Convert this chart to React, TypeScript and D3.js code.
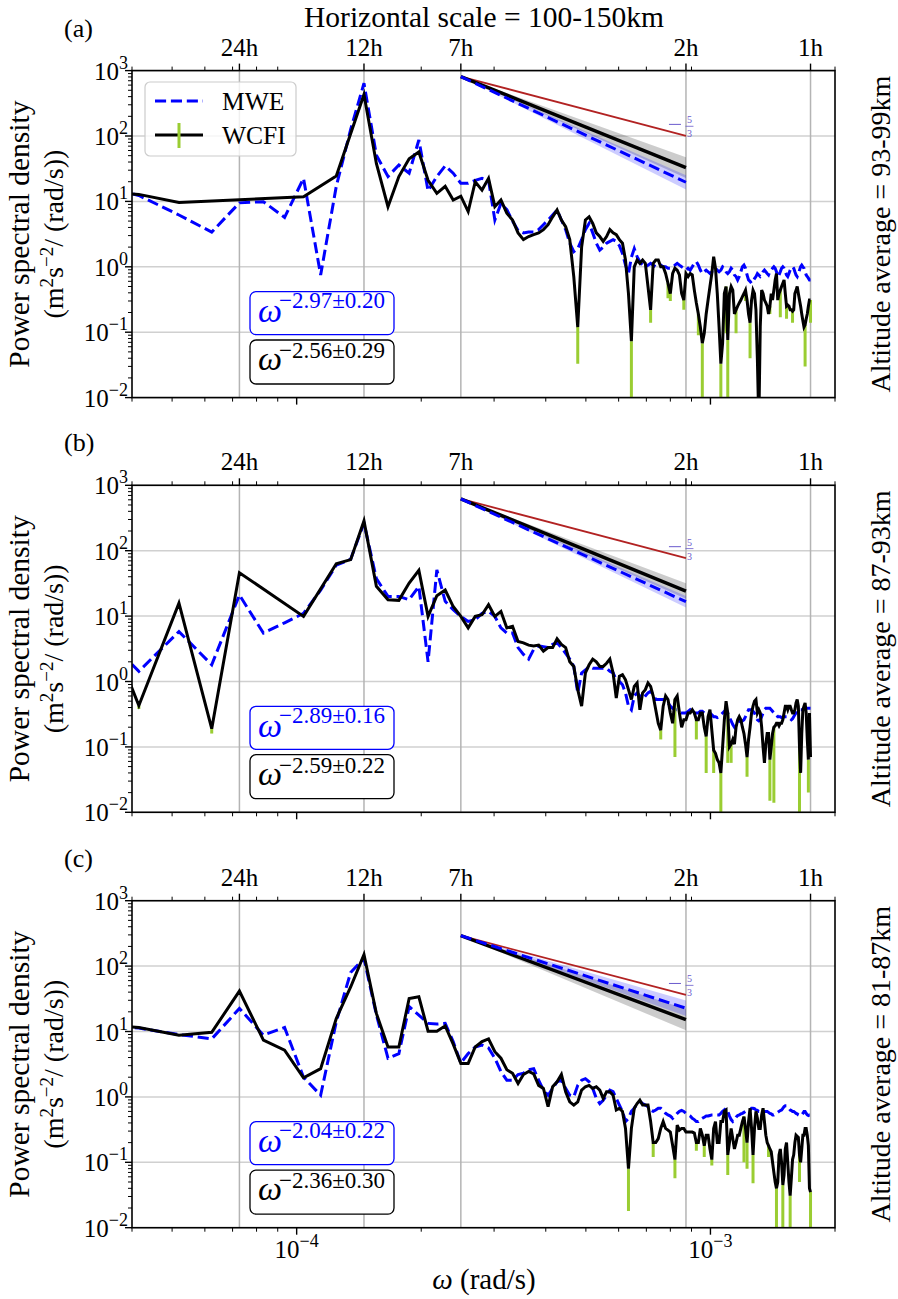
import React from 'react';
import * as d3 from 'd3';

const FONT = '"Liberation Serif", "DejaVu Serif", serif';
const WIDTH = 898;
const HEIGHT = 1299;
const LEFT = 132;
const RIGHT = 835;
const PH = 327;
const panelTops = [70.6, 485.3, 900.7];

// spectral bins of a 7-day window: omega_n = n * 2pi / (7 days)
const baseOmega = (2 * Math.PI) / (7 * 24 * 3600);
const harmonics = d3.range(3, 169);
const hourOmega = (h: number) => (2 * Math.PI) / (h * 3600);

const periodHours = [24, 12, 7, 2, 1];
const periodLabels = ['24h', '12h', '7h', '2h', '1h'];
const yDecades = [-2, -1, 0, 1, 2, 3];
const xDecades = [-4, -3];

const panelNames = ['(a)', '(b)', '(c)'];
const altitudeLabels = ['93-99km', '87-93km', '81-87km'];

// PSD values, one per harmonic n = 3..168 (null = no WCFI estimate)
const wcfiA = [
  14, 12.8, 9.6, null, null, null, null, 11.8, null, 24.4,
  null, 430, 38, 8.3, 24, 45, 57, 21, 13.3, 17,
  10.5, 12, 7, 20, 14.9, 22.5, 8.3, 10.5, 6.6, 5.2,
  3.3, 2.6, 2.9, 3.1, 3.3, 3.7, 4.4, 5.8, 7.4, 5.2,
  4.1, 2.6, 0.7, 0.12, 2.0, 5.2, 5.8, 4.6, 3.3, 2.9,
  2.45, 2.9, 3.7, 3.3, 3.1, 2.6, 2.3, 1.27, 0.39, 0.073,
  1.0, 1.27, 1.13, 1.27, 1.13, 0.5, 0.22, 1.13, 1.27, 1.27,
  1.0, 1.0, 0.79, 0.56, 0.39, 0.79, 0.95, 0.89, 0.75, 0.39,
  0.31, 0.79, 0.71, 0.79, 0.75, 0.44, 0.28, 0.19, 0.12, 0.068,
  0.096, 0.19, 0.31, 0.5, 0.79, 1.43, 0.95, 0.39, 0.12, 0.033,
  0.068, 0.39, 0.5, 0.076, 0.39, 0.5, 0.44, 0.19, 0.22, 0.25,
  0.28, 0.31, 0.35, 0.39, 0.44, 0.31, 0.19, 0.14, 0.31, 0.44,
  0.39, 0.22, 0.038, 0.004, 0.12, 0.44, 0.39, 0.31, 0.28, 0.25,
  0.19, 0.25, 0.39, 0.31, 0.44, 0.63, 0.79, 0.31, 0.39, 0.44,
  0.5, 0.56, 0.63, 0.39, 0.25, 0.26, 0.25, 0.22, 0.22, 0.21,
  0.22, 0.39, 0.44, 0.5, 0.39, 0.31, 0.25, 0.19, 0.15, 0.12,
  0.13, 0.16, 0.19, 0.25, 0.31, 0.31,
];
const mweA = [
  20, 12.3, 6.2, 3.4, 9.5, 9.9, 5.7, 22.5, 0.75, 17,
  126, 640, 51, 24, 36, 27, 87, 14.5, 24, 35,
  27, 18.9, 18.9, 21, 22.5, 21, 5.2, 9.3, 7.5, 5.0,
  3.6, 3.3, 3.4, 3.4, 3.7, 4.4, 5.2, 6.2, 7.4, 5.2,
  3.7, 2.3, 1.7, 1.9, 2.6, 3.7, 4.6, 3.3, 2.3, 1.8,
  2.0, 2.3, 2.45, 2.6, 2.45, 2.1, 1.6, 1.06, 0.79, 1.4,
  1.9, 1.43, 1.2, 1.06, 1.0, 1.06, 1.13, 1.06, 1.0, 1.0,
  1.06, 1.0, 1.0, 0.95, 0.95, 1.0, 1.06, 1.13, 1.06, 1.0,
  0.95, 0.89, 0.95, 0.89, 1.0, 1.13, 1.2, 1.06, 0.89, 0.79,
  0.84, 0.89, 0.84, 0.79, 0.84, 0.89, 0.95, 0.89, 0.84, 0.89,
  1.0, 0.95, 0.84, 0.79, 0.84, 0.95, 0.89, 0.75, 0.71, 0.63,
  0.71, 0.84, 1.0, 1.06, 0.95, 0.75, 0.63, 0.6, 0.56, 0.6,
  0.66, 0.71, 0.79, 0.75, 0.71, 0.75, 0.84, 0.89, 0.84, 0.79,
  0.75, 0.84, 0.89, 0.95, 1.0, 0.95, 0.84, 0.71, 0.75, 0.84,
  0.95, 1.0, 0.95, 0.84, 0.75, 0.71, 0.79, 0.89, 0.95, 1.0,
  0.95, 0.84, 0.75, 0.71, 0.79, 0.89, 1.0, 1.06, 1.0, 0.95,
  0.84, 0.75, 0.71, 0.67, 0.63, 0.63,
];
const wcfiB = [
  40, 0.43, 15.8, 0.19, 46, null, null, 9.9, null, 63,
  73, 285, 28.5, 17.8, 17.4, 32, 50, 9.9, 20.5, 25,
  14, 9.9, 6.6, 9.9, 10.5, 14.9, 9.9, 11.8, 6.6, 7.0,
  4.1, 3.9, 3.6, 3.5, 3.6, 2.9, 3.3, 3.3, 4.5, 3.7,
  3.3, 2.0, 1.7, 0.75, 0.42, 1.35, 1.8, 2.2, 2.0, 1.7,
  1.7, 1.9, 2.2, 1.35, 0.56, 1.2, 1.27, 1.06, 0.75, 0.53,
  0.84, 0.95, 0.37, 0.67, 0.75, 0.95, 0.84, 0.6, 0.37, 0.23,
  0.18, 0.42, 0.6, 0.53, 0.33, 0.23, 0.53, 0.6, 0.33, 0.2,
  0.26, 0.26, 0.33, 0.33, 0.37, 0.33, 0.26, 0.26, 0.33, 0.33,
  0.2, 0.145, 0.29, 0.37, 0.18, 0.089, 0.08, 0.064, 0.057, 0.04,
  0.1, 0.26, 0.5, 0.33, 0.1, 0.11, 0.13, 0.11, 0.2, 0.26,
  0.29, 0.26, 0.2, 0.16, 0.11, 0.07, 0.13, 0.2, 0.33, 0.42,
  0.5, 0.53, 0.33, 0.37, 0.33, 0.2, 0.1, 0.057, 0.11, 0.16,
  0.16, 0.064, 0.1, 0.16, 0.2, 0.21, 0.23, 0.23, 0.21, 0.23,
  0.23, 0.26, 0.33, 0.42, 0.42, 0.37, 0.42, 0.42, 0.37, 0.33,
  0.33, 0.37, 0.47, 0.53, 0.42, 0.1, 0.04, 0.16, 0.37, 0.42,
  0.47, 0.33, 0.13, 0.064, 0.33, 0.07,
];
const mweB = [
  9, 1.43, 5.8, 1.8, 21, 5.5, 7.9, 11, 25, 60,
  74, 265, 37.5, 20, 20, 17.8, 28.5, 2.0, 51, 16.8,
  12.5, 9.9, 8.3, 8.8, 11, 11.8, 9.9, 6.6, 5.5, 5.5,
  3.3, 2.6, 2.2, 3.1, 3.5, 3.4, 3.3, 3.7, 3.9, 3.3,
  2.7, 2.2, 1.7, 0.67, 1.35, 1.5, 1.7, 1.6, 1.6, 1.6,
  1.6, 1.6, 1.43, 1.35, 1.06, 1.0, 0.89, 0.67, 0.42, 0.37,
  0.6, 0.67, 0.6, 0.53, 0.6, 0.67, 0.71, 0.63, 0.53, 0.53,
  0.53, 0.53, 0.5, 0.47, 0.42, 0.39, 0.37, 0.37, 0.35, 0.33,
  0.33, 0.33, 0.35, 0.37, 0.35, 0.33, 0.33, 0.33, 0.35, 0.35,
  0.33, 0.33, 0.33, 0.33, 0.31, 0.29, 0.29, 0.28, 0.29, 0.31,
  0.33, 0.35, 0.37, 0.33, 0.28, 0.25, 0.22, 0.2, 0.22, 0.23,
  0.25, 0.25, 0.25, 0.26, 0.29, 0.33, 0.37, 0.37, 0.37, 0.35,
  0.33, 0.29, 0.26, 0.25, 0.26, 0.29, 0.33, 0.37, 0.39, 0.39,
  0.39, 0.39, 0.37, 0.35, 0.33, 0.31, 0.31, 0.29, 0.29, 0.29,
  0.28, 0.28, 0.29, 0.29, 0.29, 0.29, 0.28, 0.27, 0.26, 0.27,
  0.29, 0.31, 0.33, 0.35, 0.37, 0.37, 0.37, 0.37, 0.37, 0.38,
  0.38, 0.39, 0.39, 0.39, 0.39, 0.39,
];
const wcfiC = [
  13, 11.5, 8.8, 9.7, 41.5, 7.4, 5.2, 1.96, 2.7, 15.8,
  48, 150, 18.9, 5.8, 5.8, 32, 34, 10.1, 10.1, 12.2,
  6.4, 3.25, 3.25, 5.8, 7.0, 7.7, 4.9, 3.9, 2.6, 2.3,
  1.6, 2.2, 2.45, 2.25, 1.5, 1.35, 0.71, 1.43, 1.7, 2.2,
  1.2, 0.84, 0.75, 0.84, 1.27, 1.43, 1.5, 1.35, 1.43, 1.27,
  0.95, 1.2, 1.2, 1.06, 0.63, 0.67, 0.6, 0.33, 0.08, 0.33,
  0.67, 0.79, 0.89, 0.75, 0.75, 0.75, 0.42, 0.2, 0.2, 0.23,
  0.33, 0.42, 0.33, 0.31, 0.29, 0.18, 0.11, 0.37, 0.31, 0.33,
  0.33, 0.29, 0.29, 0.29, 0.29, 0.28, 0.2, 0.2, 0.33, 0.26,
  0.18, 0.26, 0.26, 0.16, 0.11, 0.33, 0.42, 0.2, 0.2, 0.42,
  0.42, 0.6, 0.63, 0.13, 0.2, 0.33, 0.23, 0.16, 0.2, 0.26,
  0.26, 0.33, 0.42, 0.5, 0.33, 0.2, 0.42, 0.67, 0.33, 0.13,
  0.33, 0.6, 0.47, 0.33, 0.33, 0.53, 0.67, 0.42, 0.26, 0.2,
  0.18, 0.16, 0.145, 0.1, 0.07, 0.05, 0.04, 0.05, 0.13, 0.16,
  0.1, 0.045, 0.064, 0.16, 0.2, 0.1, 0.05, 0.031, 0.057, 0.11,
  0.13, 0.2, 0.26, 0.25, 0.24, 0.13, 0.1, 0.16, 0.26, 0.26,
  0.33, 0.33, 0.26, 0.18, 0.04, 0.035,
];
const mweC = [
  12.5, 11.3, 9.0, 7.7, 22.5, 8.8, 11.5, 2.0, 1.06, 14.1,
  80, 131, 18, 3.9, 4.6, 24, 17.8, 13.3, 13, 13.3,
  7.0, 3.3, 4.6, 5.8, 6.2, 5.6, 3.9, 2.45, 1.8, 1.8,
  2.2, 2.3, 2.6, 2.7, 1.8, 1.27, 1.06, 1.35, 1.7, 1.8,
  1.35, 1.06, 1.0, 1.5, 1.8, 1.9, 1.7, 1.35, 0.95, 0.79,
  0.89, 1.06, 1.27, 1.2, 0.95, 0.75, 0.6, 0.42, 0.47, 0.6,
  0.67, 0.79, 0.84, 0.79, 0.75, 0.71, 0.63, 0.6, 0.63, 0.67,
  0.67, 0.62, 0.56, 0.53, 0.51, 0.47, 0.51, 0.56, 0.6, 0.62,
  0.6, 0.56, 0.53, 0.51, 0.47, 0.45, 0.42, 0.42, 0.45, 0.47,
  0.49, 0.51, 0.51, 0.52, 0.53, 0.53, 0.53, 0.53, 0.53, 0.56,
  0.6, 0.63, 0.67, 0.6, 0.51, 0.45, 0.42, 0.45, 0.49, 0.52,
  0.53, 0.55, 0.56, 0.58, 0.6, 0.6, 0.62, 0.63, 0.67, 0.67,
  0.66, 0.63, 0.62, 0.6, 0.6, 0.6, 0.6, 0.6, 0.6, 0.6,
  0.58, 0.56, 0.55, 0.53, 0.53, 0.55, 0.56, 0.58, 0.6, 0.62,
  0.63, 0.67, 0.71, 0.73, 0.73, 0.71, 0.67, 0.63, 0.62, 0.6,
  0.6, 0.58, 0.56, 0.55, 0.53, 0.52, 0.51, 0.53, 0.56, 0.6,
  0.6, 0.56, 0.53, 0.52, 0.53, 0.53,
];

// WCFI lower error-bar ends that stick out below the curve: [n, lower PSD]
const wcfiErrA = [[46, 0.033], [62, 0.005], [69, 0.14], [76, 0.33], [77, 0.3], [83, 0.22], [90, 0.09], [92, 0.005], [102, 0.005], [105, 0.096], [106, 0.006], [111, 0.096], [117, 0.3], [120, 0.04], [134, 0.19], [142, 0.17], [147, 0.16], [152, 0.14], [163, 0.03], [168, 0.14]];
const wcfiErrB = [[4, 0.38], [6, 0.16], [73, 0.13], [79, 0.07], [89, 0.13], [94, 0.04], [98, 0.04], [102, 0.005], [106, 0.057], [108, 0.057], [118, 0.035], [134, 0.015], [137, 0.014], [158, 0.005], [166, 0.02]];
const wcfiErrC = [[61, 0.018], [70, 0.12], [79, 0.057], [89, 0.15], [93, 0.12], [97, 0.089], [106, 0.064], [116, 0.1], [118, 0.08], [122, 0.048], [133, 0.12], [139, 0.005], [144, 0.005], [150, 0.005], [158, 0.05], [168, 0.005]];

// power-law fits between 7h and 2h periods
const fitAnchor = [810, 620, 292];
const mweSlope = [-2.97, -2.89, -2.04];
const mweSlopeErr = [0.2, 0.16, 0.22];
const wcfiSlope = [-2.56, -2.59, -2.36];
const wcfiSlopeErr = [0.29, 0.22, 0.3];
const mweSlopeText = ['−2.97±0.20', '−2.89±0.16', '−2.04±0.22'];
const wcfiSlopeText = ['−2.56±0.29', '−2.59±0.22', '−2.36±0.30'];
const kolmogorovSlope = -5 / 3;

const mweSeries = [mweA, mweB, mweC];
const wcfiSeries = [wcfiA, wcfiB, wcfiC];
const wcfiErrors = [wcfiErrA, wcfiErrB, wcfiErrC];

const BLUE = '#0000ff';
const GREEN = '#9acd32';
const RED = '#b22222';
const SLATE = '#6a5acd';

const supText = (e: number) => (e < 0 ? `−${-e}` : `${e}`);

function Panel({ i }: { i: number }) {
  const top = panelTops[i];
  const bottom = top + PH;
  const x = d3.scaleLog().domain([4e-5, 2e-3]).range([LEFT, RIGHT]);
  const y = d3.scaleLog().domain([1e-2, 1e3]).range([bottom, top]);
  const line = d3.line<[number, number]>().x(d => x(d[0])).y(d => y(d[1]));
  const toPts = (vals: (number | null)[]) =>
    harmonics
      .map((n, k) => [n * baseOmega, vals[k]] as [number, number | null])
      .filter(d => d[1] != null) as [number, number][];

  const mwePts = toPts(mweSeries[i]);
  const wcfiPts = toPts(wcfiSeries[i]);
  const wcfiVals = wcfiSeries[i];

  const w0 = hourOmega(7);
  const w1 = hourOmega(2);
  const A = fitAnchor[i];
  const pw = (s: number) => (w: number) => A * Math.pow(w / w0, s);
  const band = (s: number, e: number) =>
    d3.area<number>().x(w => x(w)).y0(w => y(pw(s - e)(w))).y1(w => y(pw(s + e)(w)))([w0, w1]) || '';
  const fitLine = (s: number) => line([[w0, A], [w1, pw(s)(w1)]]) || '';

  const xMinor: number[] = [];
  for (const e of [-5, -4, -3]) for (let m = 2; m <= 9; m++) {
    const v = m * Math.pow(10, e);
    if (v >= 4e-5 - 1e-12 && v <= 2e-3 + 1e-12) xMinor.push(v);
  }
  const yMinor: number[] = [];
  for (const e of [-2, -1, 0, 1, 2]) for (let m = 2; m <= 9; m++) yMinor.push(m * Math.pow(10, e));

  const clipId = `clip-${i}`;
  const cy = top + PH / 2;
  const ye = y(pw(kolmogorovSlope)(w1));
  const xr = x(w1);

  return (
    <g>
      <defs>
        <clipPath id={clipId}>
          <rect x={LEFT} y={top} width={RIGHT - LEFT} height={PH} />
        </clipPath>
      </defs>
      {/* grid */}
      {yDecades.map(e => (
        <line key={'gy' + e} x1={LEFT} x2={RIGHT} y1={y(Math.pow(10, e))} y2={y(Math.pow(10, e))} stroke="#d0d0d0" strokeWidth={1.5} />
      ))}
      {periodHours.map(h => (
        <line key={'gx' + h} x1={x(hourOmega(h))} x2={x(hourOmega(h))} y1={top} y2={bottom} stroke="#b4b4b4" strokeWidth={1.5} />
      ))}

      <g clipPath={`url(#${clipId})`}>
        {/* fits */}
        <path d={band(wcfiSlope[i], wcfiSlopeErr[i])} fill="#000" fillOpacity={0.2} />
        <path d={band(mweSlope[i], mweSlopeErr[i])} fill={BLUE} fillOpacity={0.2} />
        <path d={fitLine(kolmogorovSlope)} stroke={RED} strokeWidth={1.8} fill="none" />
        <path d={fitLine(wcfiSlope[i])} stroke="#000" strokeWidth={3.5} fill="none" />
        <path d={fitLine(mweSlope[i])} stroke={BLUE} strokeWidth={3} strokeDasharray="11,5" fill="none" />

        {/* data */}
        <path d={line(mwePts) || ''} stroke={BLUE} strokeWidth={3} strokeDasharray="11.1,4.8" fill="none" />
        {wcfiErrors[i].map(([n, lo]) => {
          const v = wcfiVals[n - 3] as number;
          const w = n * baseOmega;
          return <line key={'e' + n} x1={x(w)} x2={x(w)} y1={y(v)} y2={y(Math.max(lo, 1e-3))} stroke={GREEN} strokeWidth={3} />;
        })}
        <path d={line(wcfiPts) || ''} stroke="#000" strokeWidth={3} fill="none" />
      </g>

      {/* -5/3 label */}
      <g fill={SLATE} fontFamily={FONT}>
        <line x1={xr - 17} x2={xr - 5} y1={ye - 11.5} y2={ye - 11.5} stroke={SLATE} strokeWidth={1} />
        <line x1={xr - 0.5} x2={xr + 7.5} y1={ye - 9.6} y2={ye - 9.6} stroke={SLATE} strokeWidth={0.8} />
        <text x={xr + 3.5} y={ye - 12.5} fontSize={10} textAnchor="middle">5</text>
        <text x={xr + 3.5} y={ye + 1.5} fontSize={10} textAnchor="middle">3</text>
      </g>

      {/* slope boxes */}
      <rect x={250} y={top + 221} width={144} height={43} rx={6} fill="#fff" stroke={BLUE} strokeWidth={1.3} />
      <text x={258} y={top + 251.5} fontFamily={FONT} fontStyle="italic" fontSize={34} fill={BLUE}>ω</text>
      <text x={279} y={top + 237.5} fontFamily={FONT} fontSize={23} fill={BLUE}>{mweSlopeText[i]}</text>
      <rect x={250} y={top + 269.4} width={144} height={44} rx={6} fill="#fff" stroke="#000" strokeWidth={1.3} />
      <text x={258} y={top + 299.4} fontFamily={FONT} fontStyle="italic" fontSize={34} fill="#000">ω</text>
      <text x={279} y={top + 287.4} fontFamily={FONT} fontSize={23} fill="#000">{wcfiSlopeText[i]}</text>

      {/* frame */}
      <rect x={LEFT} y={top} width={RIGHT - LEFT} height={PH} fill="none" stroke="#000" strokeWidth={1.6} />

      {/* left ticks */}
      {yDecades.map(e => (
        <g key={'yt' + e}>
          <line x1={LEFT - 7} x2={LEFT} y1={y(Math.pow(10, e))} y2={y(Math.pow(10, e))} stroke="#000" strokeWidth={1.4} />
          <text x={128} y={y(Math.pow(10, e)) + 9} textAnchor="end" fontFamily={FONT} fontSize={25}>
            10<tspan dy={-11} fontSize={18}>{supText(e)}</tspan>
          </text>
        </g>
      ))}
      {yMinor.map(v => (
        <line key={'ym' + v} x1={LEFT - 4} x2={LEFT} y1={y(v)} y2={y(v)} stroke="#000" strokeWidth={1} />
      ))}

      {/* top ticks (periods) */}
      {periodHours.map((h, k) => (
        <g key={'tt' + h}>
          <line x1={x(hourOmega(h))} x2={x(hourOmega(h))} y1={top - 7} y2={top} stroke="#000" strokeWidth={1.4} />
          <text x={x(hourOmega(h))} y={top - 15} textAnchor="middle" fontFamily={FONT} fontSize={25}>{periodLabels[k]}</text>
        </g>
      ))}
      {xMinor.map(v => (
        <line key={'tm' + v} x1={x(v)} x2={x(v)} y1={top - 4} y2={top} stroke="#000" strokeWidth={1} />
      ))}

      {/* bottom ticks */}
      {xDecades.map(e => (
        <g key={'bt' + e}>
          <line x1={x(Math.pow(10, e))} x2={x(Math.pow(10, e))} y1={bottom} y2={bottom + 7} stroke="#000" strokeWidth={1.4} />
          {i === 2 && (
            <text x={x(Math.pow(10, e))} y={bottom + 30} textAnchor="middle" fontFamily={FONT} fontSize={25}>
              10<tspan dy={-11} fontSize={18}>{supText(e)}</tspan>
            </text>
          )}
        </g>
      ))}
      {xMinor.map(v => (
        <line key={'bm' + v} x1={x(v)} x2={x(v)} y1={bottom} y2={bottom + 4} stroke="#000" strokeWidth={1} />
      ))}

      {/* labels */}
      <text x={64} y={top - 34} fontFamily={FONT} fontSize={26}>{panelNames[i]}</text>
      <text transform={`translate(29,${cy}) rotate(-90)`} textAnchor="middle" fontFamily={FONT} fontSize={29.5}>Power spectral density</text>
      <text transform={`translate(63,${cy}) rotate(-90)`} textAnchor="middle" fontFamily={FONT} fontSize={28}>
        (m<tspan dy={-10} fontSize={19}>2</tspan><tspan dy={10}>s</tspan><tspan dy={-10} fontSize={19}>−2</tspan><tspan dy={10}>/ (rad/s))</tspan>
      </text>
      <text transform={`translate(890,${cy}) rotate(-90)`} textAnchor="middle" fontFamily={FONT} fontSize={28}>
        Altitude average = {altitudeLabels[i]}
      </text>

      {i === 0 && (
        <g>
          <rect x={145} y={82} width={151} height={74} rx={5} fill="#fff" fillOpacity={0.8} stroke="#cccccc" strokeWidth={1.2} />
          <line x1={155} x2={203} y1={101} y2={101} stroke={BLUE} strokeWidth={3} strokeDasharray="11.1,4.8" />
          <text x={222} y={110} fontFamily={FONT} fontSize={25.5}>MWE</text>
          <line x1={155} x2={203} y1={135} y2={135} stroke="#000" strokeWidth={3} />
          <line x1={179} x2={179} y1={123} y2={148} stroke={GREEN} strokeWidth={3} />
          <text x={222} y={144} fontFamily={FONT} fontSize={25.5}>WCFI</text>
        </g>
      )}
    </g>
  );
}

export default function App() {
  return (
    <div style={{ position: 'absolute', left: 0, top: 0, background: '#fff' }}>
      <svg width={WIDTH} height={HEIGHT} viewBox={`0 0 ${WIDTH} ${HEIGHT}`} style={{ display: 'block' }}>
        <rect x={0} y={0} width={WIDTH} height={HEIGHT} fill="#fff" />
        <text x={484} y={27} textAnchor="middle" fontFamily={FONT} fontSize={29.5}>Horizontal scale = 100-150km</text>
        {[0, 1, 2].map(i => <Panel key={i} i={i} />)}
        <text x={484} y={1289} textAnchor="middle" fontFamily={FONT} fontSize={29}>
          <tspan fontStyle="italic">ω</tspan> (rad/s)
        </text>
      </svg>
    </div>
  );
}
